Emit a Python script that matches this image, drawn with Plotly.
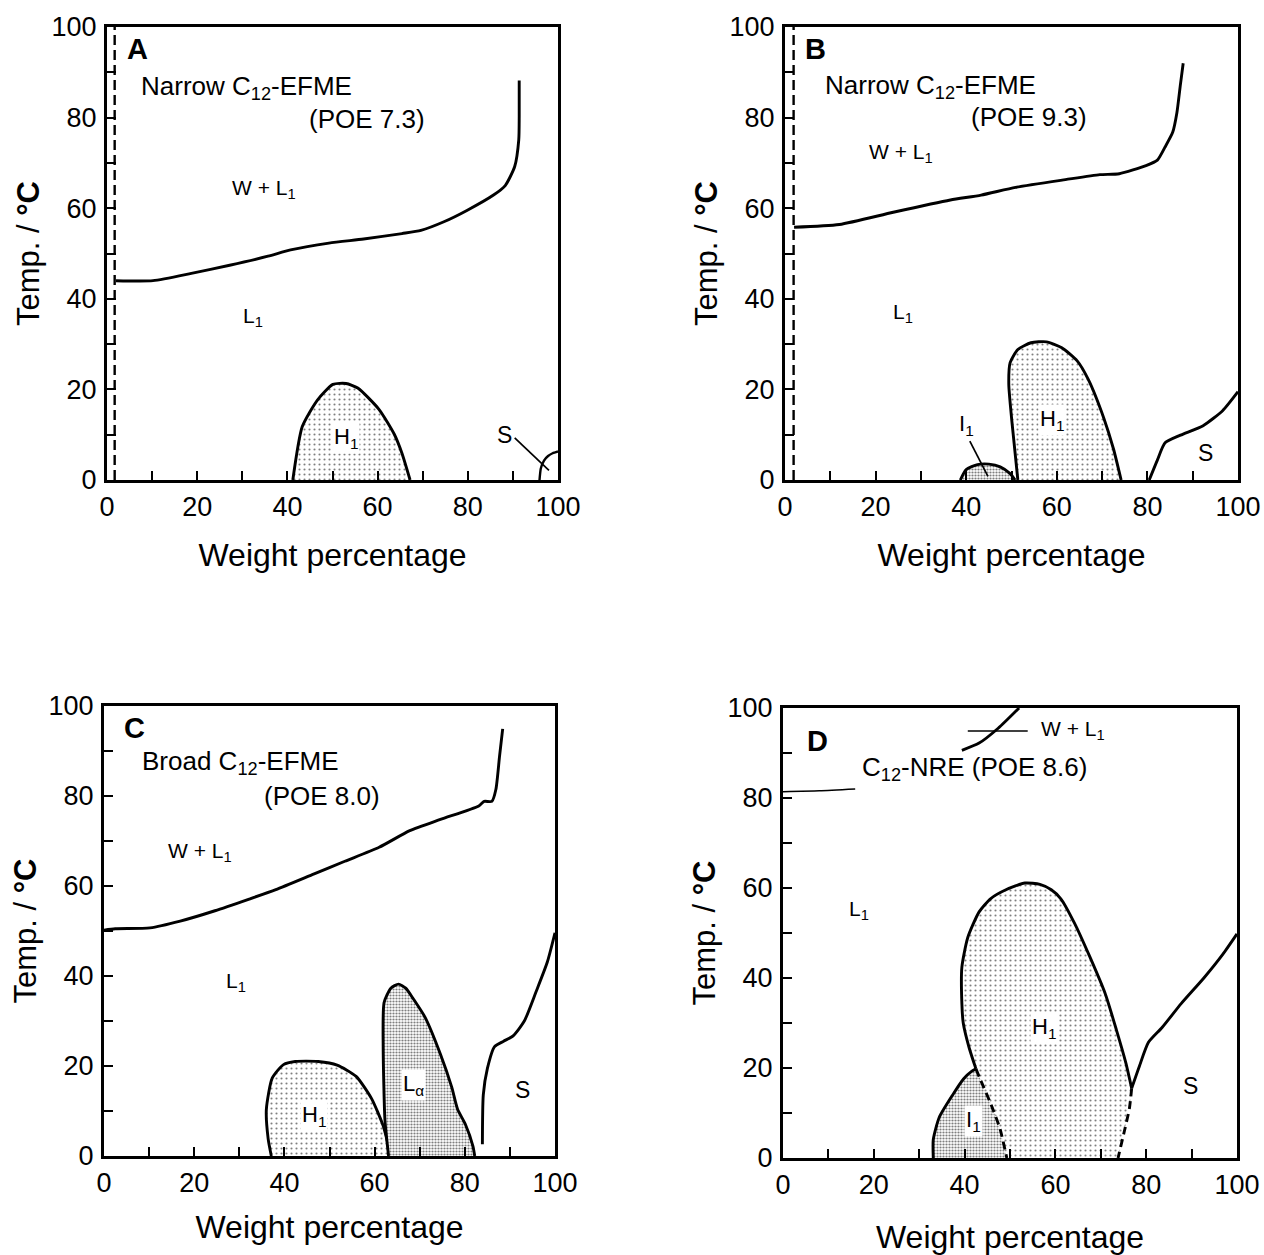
import plotly.graph_objects as go

FONT = "Liberation Sans, Arial, Helvetica, sans-serif"

# ---------------- Panel A : Narrow C12-EFME (POE 7.3) ----------------
A_upper_x = [2, 10.2, 18.7, 27.2, 35.7, 40.7, 49.2, 56.9, 65.4, 69.6, 74.7, 79.8, 85.7, 88.3, 90.4, 91.3, 91.4, 91.4]
A_upper_y = [44, 44, 45.6, 47.4, 49.4, 50.8, 52.3, 53.2, 54.4, 55.1, 57, 59.5, 62.9, 65, 69.2, 75.1, 80.2, 88.2]
A_h1_x = [41.2, 43.3, 46.7, 50.1, 53.0, 55.6, 60.3, 63.7, 65.4, 67.2]
A_h1_y = [0, 11.8, 17.7, 21.1, 21.3, 20.3, 15.6, 10.1, 5.9, 0]
A_s_x = [95.9, 96.2, 96.9, 97.8, 98.8, 100]
A_s_y = [0, 2.6, 4.3, 5.3, 5.9, 6.3]
A_dash_x = [1.7, 1.7]
A_dash_y = [0, 100]
A_ptr_x = [90.4, 98.0]
A_ptr_y = [9.3, 2.1]

# ---------------- Panel B : Narrow C12-EFME (POE 9.3) ----------------
B_upper_x = [2, 12, 23.9, 36.5, 43.3, 50.9, 61.9, 69.5, 73.8, 79.7, 82.2, 83.9, 85.6, 86.5, 87.3, 87.9]
B_upper_y = [55.8, 56.4, 59.1, 61.8, 62.9, 64.6, 66.3, 67.4, 67.6, 69.4, 70.6, 73.5, 76.8, 81, 87.4, 92]
B_i1_x = [38.7, 40.0, 42.5, 45.0, 47.5, 49.7, 50.8]
B_i1_y = [0, 2.3, 3.4, 3.5, 2.9, 1.4, 0]
B_h1_x = [51.4, 50.1, 49.4, 49.7, 51.4, 54.3, 57.7, 61.1, 64.5, 67.0, 70.4, 72.5, 74.2]
B_h1_y = [0, 12.8, 21.2, 25.9, 28.8, 30.3, 30.5, 29.2, 26.3, 22.1, 13.6, 6.9, 0]
B_s_x = [80.4, 82.2, 83.9, 87.3, 92.3, 96.6, 100]
B_s_y = [0, 4.4, 8.2, 9.9, 12.0, 15.3, 19.5]
B_dash_x = [1.9, 1.9]
B_dash_y = [0, 100]
B_ptr_x = [40.8, 44.8]
B_ptr_y = [8.6, 0.8]

# ---------------- Panel C : Broad C12-EFME (POE 8.0) ----------------
C_upper_x = [0, 2.5, 10.2, 16.9, 24.6, 32.2, 38.1, 46.6, 53.4, 61.0, 67.8, 74.6, 83.1, 84.3, 86.0, 86.9, 87.7, 88.4]
C_upper_y = [50.2, 50.5, 50.7, 52.2, 54.5, 57.1, 59.2, 62.7, 65.5, 68.6, 72.3, 74.8, 77.8, 78.8, 78.8, 81.5, 88.8, 94.9]
C_h1_x = [37.1, 36.4, 36.0, 37.3, 39.8, 42.4, 47.5, 51.7, 55.9, 59.3, 61.9, 63.6]
C_h1_y = [0, 3.8, 10.4, 17.3, 20.3, 21.0, 21.0, 20.2, 17.7, 12.8, 6.7, 0]
C_la_x = [63.1, 62.3, 61.9, 62.1, 63.6, 65.3, 66.9, 68.6, 71.2, 74.6, 77.1, 78.4, 80.1, 81.8, 82.2]
C_la_y = [0, 7.9, 24.3, 34.1, 37.3, 38.2, 37.3, 34.9, 30.8, 22.6, 15.3, 10.4, 7.1, 2.2, 0]
C_s_x = [83.9, 84.1, 85.0, 86.6, 88.6, 90.7, 93.2, 95.8, 98.3, 100]
C_s_y = [2.6, 13.6, 19.4, 24.3, 25.5, 26.7, 30.0, 36.5, 43.1, 49.6]

# ---------------- Panel D : C12-NRE (POE 8.6) ----------------
D_left_x = [0, 8, 15.9]
D_left_y = [81.4, 81.6, 82.0]
D_top_x = [39.4, 43.2, 47.4, 52.0]
D_top_y = [90.6, 92.2, 95.5, 100]
D_ptr_x = [40.7, 53.9]
D_ptr_y = [94.9, 94.9]
D_i1_x = [33.1, 33.1, 34.4, 37.3, 39.8, 41.6, 42.5]
D_i1_y = [0, 4.1, 9.0, 13.9, 17.6, 19.3, 19.8]
D_i1h1_x = [42.5, 43.4, 45.7, 47.8, 49.3]
D_i1h1_y = [19.8, 17.6, 12.2, 6.5, 0]
D_h1_x = [42.5, 41.0, 39.7, 39.4, 39.4, 40.7, 43.2, 45.7, 49.1, 53.3, 56.6, 59.1, 61.2, 64.2, 67.5, 70.9, 73.4, 75.5, 76.8]
D_h1_y = [19.8, 24.5, 30.0, 34.3, 42.4, 49.0, 54.7, 57.6, 59.6, 61.1, 60.8, 59.6, 57.6, 52.2, 44.9, 36.7, 28.6, 21.2, 15.5]
D_h1r_x = [76.8, 76.3, 75.2, 73.8]
D_h1r_y = [15.5, 11.0, 6.0, 0]
D_s_x = [76.8, 78.5, 80.5, 83.5, 87.7, 92.7, 96.9, 100]
D_s_y = [15.5, 20.4, 25.7, 29.0, 34.3, 40.0, 45.3, 49.8]

# axis ticks: labelled majors every 20, unlabelled minors every 10
MAJOR_DTICK = 20
MINOR_DTICK = 10

LIGHT = dict(shape=".", size=5, solidity=0.14, fgcolor="black", bgcolor="white")
DENSE = dict(shape=".", size=3, solidity=0.42, fgcolor="black", bgcolor="white")
LW = 2.9

fig = go.Figure()


def line(xs, ys, ax, width=LW, dash="solid", spline=True):
    fig.add_trace(go.Scatter(
        x=xs, y=ys, mode="lines", xaxis=ax[0], yaxis=ax[1],
        line=dict(color="black", width=width, dash=dash,
                  shape="spline" if spline else "linear", smoothing=0.6),
        hoverinfo="skip", showlegend=False))


def region(xs, ys, ax, pattern, width=LW):
    fig.add_trace(go.Scatter(
        x=xs, y=ys, mode="lines", xaxis=ax[0], yaxis=ax[1], fill="toself",
        fillcolor="white", fillpattern=pattern,
        line=dict(color="black", width=width, shape="spline", smoothing=0.6),
        hoverinfo="skip", showlegend=False))


AX = {"A": ("x", "y"), "B": ("x2", "y2"), "C": ("x3", "y3"), "D": ("x4", "y4")}

# Panel A
line(A_dash_x, A_dash_y, AX["A"], width=2.4, dash="10px,5px", spline=False)
line(A_upper_x, A_upper_y, AX["A"])
region(A_h1_x, A_h1_y, AX["A"], LIGHT)
line(A_s_x, A_s_y, AX["A"], width=2.4)
line(A_ptr_x, A_ptr_y, AX["A"], width=1.7, spline=False)

# Panel B
line(B_dash_x, B_dash_y, AX["B"], width=2.4, dash="10px,5px", spline=False)
line(B_upper_x, B_upper_y, AX["B"])
region(B_i1_x, B_i1_y, AX["B"], DENSE)
region(B_h1_x, B_h1_y, AX["B"], LIGHT)
line(B_s_x, B_s_y, AX["B"])
line(B_ptr_x, B_ptr_y, AX["B"], width=1.7, spline=False)

# Panel C
line(C_upper_x, C_upper_y, AX["C"])
region(C_h1_x, C_h1_y, AX["C"], LIGHT)
region(C_la_x, C_la_y, AX["C"], DENSE)
line(C_s_x, C_s_y, AX["C"])

# Panel D
line(D_left_x, D_left_y, AX["D"], width=1.5)
line(D_top_x, D_top_y, AX["D"])
line(D_ptr_x, D_ptr_y, AX["D"], width=1.5, spline=False)
h1_fill_x = D_i1h1_x[::-1] + D_h1_x + D_h1r_x
h1_fill_y = D_i1h1_y[::-1] + D_h1_y + D_h1r_y
i1_fill_x = D_i1_x + D_i1h1_x
i1_fill_y = D_i1_y + D_i1h1_y
fig.add_trace(go.Scatter(x=h1_fill_x, y=h1_fill_y, mode="lines", xaxis="x4", yaxis="y4",
                         fill="toself", fillcolor="white", fillpattern=LIGHT,
                         line=dict(width=0, color="rgba(0,0,0,0)"), hoverinfo="skip", showlegend=False))
fig.add_trace(go.Scatter(x=i1_fill_x, y=i1_fill_y, mode="lines", xaxis="x4", yaxis="y4",
                         fill="toself", fillcolor="white", fillpattern=DENSE,
                         line=dict(width=0, color="rgba(0,0,0,0)"), hoverinfo="skip", showlegend=False))
line(D_i1_x, D_i1_y, AX["D"])
line(D_h1_x, D_h1_y, AX["D"])
line(D_i1h1_x, D_i1h1_y, AX["D"], dash="8px,5px")
line(D_h1r_x, D_h1r_y, AX["D"], dash="8px,5px")
line(D_s_x, D_s_y, AX["D"])

# ---------------- layout ----------------
W, H = 1264, 1255
panels = {
    "A": (107, 558, 27, 480),
    "B": (785, 1238, 27, 480),
    "C": (104, 555, 706, 1156),
    "D": (783, 1237, 708, 1158),
}
xstand = {"A": 24, "B": 24, "C": 20, "D": 29}

layout = dict(width=W, height=H, margin=dict(l=0, r=0, t=0, b=0, autoexpand=False),
              paper_bgcolor="white", plot_bgcolor="white",
              font=dict(family=FONT, color="black"), showlegend=False)

for i, key in enumerate(["A", "B", "C", "D"]):
    x0, x1, yt, yb = panels[key]
    sfx = "" if i == 0 else str(i + 1)
    common = dict(range=[0, 100], showgrid=False, zeroline=False, showline=True,
                  linecolor="black", linewidth=3.2, mirror=True, ticks="inside",
                  ticklen=9, tickwidth=1.5, tickcolor="black", automargin=False,
                  tickmode="linear", tick0=0, dtick=MAJOR_DTICK,
                  minor=dict(dtick=MINOR_DTICK, tick0=0, ticks="inside", ticklen=9,
                             tickwidth=1.5, tickcolor="black", showgrid=False),
                  tickfont=dict(size=27, family=FONT, color="black"), fixedrange=True)
    layout["xaxis" + sfx] = dict(common, domain=[x0 / W, x1 / W],
                                 anchor="y" + sfx,
                                 title=dict(text="Weight percentage", font=dict(size=32, family=FONT),
                                            standoff=xstand[key]))
    layout["yaxis" + sfx] = dict(common, domain=[1 - yb / H, 1 - yt / H],
                                 anchor="x" + sfx, ticklabelstandoff=2,
                                 title=dict(text="Temp. / <b>°C</b>", font=dict(size=31, family=FONT),
                                            standoff=3))

fig.update_layout(**layout)


def note(ax, x, y, text, size=20, bold=False, xanchor="center", bg=None):
    xr, yr = AX[ax]
    fig.add_annotation(x=x, y=y, xref=xr, yref=yr, text=("<b>%s</b>" % text) if bold else text,
                       showarrow=False, xanchor=xanchor, yanchor="middle",
                       font=dict(size=size, family=FONT, color="black"),
                       bgcolor=bg, borderpad=1)


# Panel A labels
note("A", 4.0, 95.2, "A", size=29, bold=True, xanchor="left")
note("A", 7.0, 86.6, "Narrow C<sub>12</sub>-EFME", size=26, xanchor="left")
note("A", 57.7, 79.6, "(POE 7.3)", size=26)
note("A", 34.8, 64.3, "W + L<sub>1</sub>", size=21)
note("A", 32.3, 36.0, "L<sub>1</sub>", size=21)
note("A", 53.0, 9.3, "H<sub>1</sub>", size=22, bg="white")
note("A", 88.2, 10.0, "S", size=23)

# Panel B labels
note("B", 4.0, 95.2, "B", size=29, bold=True, xanchor="left")
note("B", 8.3, 86.8, "Narrow C<sub>12</sub>-EFME", size=26, xanchor="left")
note("B", 53.9, 80.2, "(POE 9.3)", size=26)
note("B", 25.5, 72.2, "W + L<sub>1</sub>", size=21)
note("B", 26.0, 36.8, "L<sub>1</sub>", size=21)
note("B", 40.0, 12.2, "I<sub>1</sub>", size=22)
note("B", 58.9, 13.3, "H<sub>1</sub>", size=22, bg="white")
note("B", 92.8, 6.0, "S", size=23)

# Panel C labels
note("C", 4.0, 95.2, "C", size=29, bold=True, xanchor="left")
note("C", 7.9, 87.5, "Broad C<sub>12</sub>-EFME", size=26, xanchor="left")
note("C", 48.3, 80.0, "(POE 8.0)", size=26)
note("C", 21.2, 67.5, "W + L<sub>1</sub>", size=21)
note("C", 29.2, 38.6, "L<sub>1</sub>", size=21)
note("C", 46.6, 8.8, "H<sub>1</sub>", size=22, bg="white")
note("C", 68.6, 15.8, "L<sub>α</sub>", size=22, bg="white")
note("C", 92.8, 14.6, "S", size=23)

# Panel D labels
note("D", 4.8, 92.7, "D", size=29, bold=True, xanchor="left")
note("D", 17.0, 86.5, "C<sub>12</sub>-NRE (POE 8.6)", size=26, xanchor="left")
note("D", 56.4, 95.2, "W + L<sub>1</sub>", size=21, xanchor="left")
note("D", 16.8, 55.2, "L<sub>1</sub>", size=21)
note("D", 57.5, 29.0, "H<sub>1</sub>", size=22, bg="white")
note("D", 41.9, 8.3, "I<sub>1</sub>", size=22, bg="white")
note("D", 89.8, 16.0, "S", size=23)

fig.write_html("out.html")
